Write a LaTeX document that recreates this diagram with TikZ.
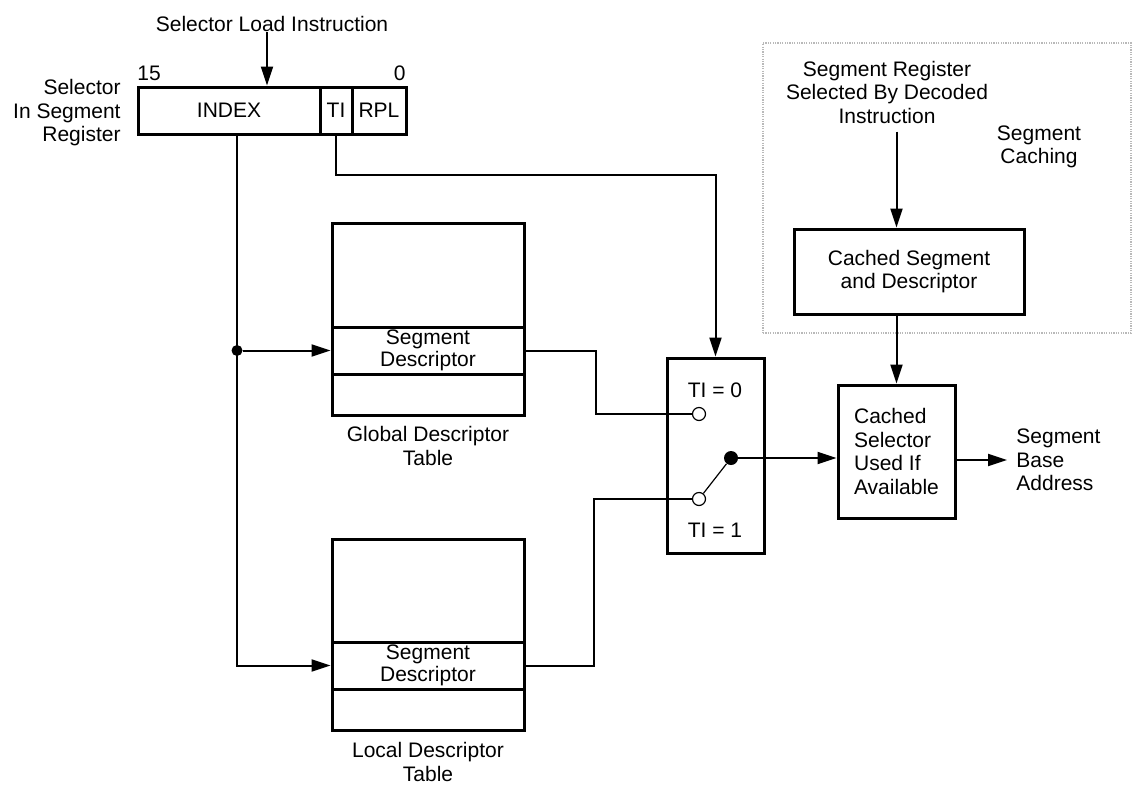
\documentclass[tikz,border=0pt]{standalone}
\usepackage{fontspec}
\setmainfont{Liberation Sans}
\usetikzlibrary{arrows.meta}
\begin{document}
\begin{tikzpicture}[x=0.5pt,y=-0.5pt,
  every node/.style={font=\fontsize{10.5}{11.75}\selectfont, inner sep=0pt},
  box/.style={draw, line width=1.5pt},
  conn/.style={line width=1pt},
  arr/.style={conn, -{Triangle[length=9.5pt,width=6pt]}},
  lbl/.style={align=center},
  sdtext/.style={align=center, font=\fontsize{10.5}{9}\selectfont},
  opencirc/.style={circle, draw, line width=0.6pt, fill=white, minimum size=6.5pt},
  cachestyle/.style={draw=gray!55, line width=1.3pt, dash pattern=on 0.6pt off 0.6pt}]
\useasboundingbox (0,0) rectangle (1134,793);

% selector register
\node[lbl] (sli) at (272,24) {Selector Load Instruction};
\node[box, minimum width=91pt, minimum height=23.5pt] (index) at (229,110.5) {INDEX};
\node[box, minimum width=16pt, minimum height=23.5pt] (ti) at (336,110.5) {TI};
\node[box, minimum width=27pt, minimum height=23.5pt] (rpl) at (379,110.5) {RPL};
\node[anchor=west] (b15) at (137,73.5) {15};
\node[anchor=east] (b0) at (406,73.5) {0};
\node[align=right, anchor=east] (selreg) at (121,113) {Selector\\In Segment\\Register};

% global descriptor table
\node[box, minimum width=96pt, minimum height=52pt] (gdttop) at (428,275) {};
\node[box, minimum width=96pt, minimum height=23.5pt, sdtext] (gdtsd) at (428,350.5) {Segment\\Descriptor};
\node[box, minimum width=96pt, minimum height=20.5pt] (gdtbot) at (428,394.5) {};
\node[lbl] (gdtl) at (428,446) {Global Descriptor\\Table};

% local descriptor table
\node[box, minimum width=96pt, minimum height=51.5pt] (ldttop) at (428,590.5) {};
\node[box, minimum width=96pt, minimum height=23.5pt, sdtext] (ldtsd) at (428,665.5) {Segment\\Descriptor};
\node[box, minimum width=96pt, minimum height=20.5pt] (ldtbot) at (428,709.5) {};
\node[lbl] (ldtl) at (428,762) {Local Descriptor\\Table};

% switch
\node[box, minimum width=48.5pt, minimum height=97.5pt] (sw) at (715.5,455.5) {};
\node (ti0) at (715,390) {TI = 0};
\node (ti1) at (715,530) {TI = 1};

% caching
\node[cachestyle, minimum width=184pt, minimum height=145pt] (cachebox) at (947,188) {};
\node[lbl] (segreg) at (887,92) {Segment Register\\Selected By Decoded\\Instruction};
\node[lbl] (segcach) at (1039,147) {Segment\\Caching};
\node[box, minimum width=115pt, minimum height=42.5pt, align=center] (csd) at (909,271.5) {Cached Segment\\and Descriptor};
\node[box, minimum width=58.5pt, minimum height=66.5pt, align=left] (cs) at (896.5,451.5) {Cached\\Selector\\Used If\\Available};
\node[align=left, anchor=west] (sba) at (1016,460) {Segment\\Base\\Address};

% junction
\node[circle, fill, minimum size=5.5pt] (j) at (237,350.5) {};

% connectors
\draw[arr] ([xshift=-2.5pt]sli.south) -- ([xshift=-2.5pt]sli.south |- index.north);
\draw[arr] ([xshift=4pt]index.south) |- (ldtsd.west);
\draw[arr] (j) -- (gdtsd.west);
\draw[arr] (ti.south) -- ++(0,39) -| (sw.north);
\draw[conn] (gdtsd.east) -- (596,350.5) |- (699,414);
\draw[conn] (ldtsd.east) -- (594,665.5) |- (699,499);

\node[opencirc] (c0) at (699,414) {};
\node[opencirc] (c1) at (699,499) {};
\node[circle, fill, minimum size=7pt] (dot) at (731,458) {};
\draw[line width=0.6pt] (c1) -- (dot);
\draw[arr] (dot) -- (dot -| cs.west);

\draw[arr] ([yshift=-4pt]cs.north |- segreg.south) -- (cs.north |- csd.north);
\draw[arr] (cs.north |- csd.south) -- (cs.north);
\draw[arr] (cs.east |- sba.west) -- ([xshift=-4.5pt]sba.west);
\end{tikzpicture}
\end{document}
